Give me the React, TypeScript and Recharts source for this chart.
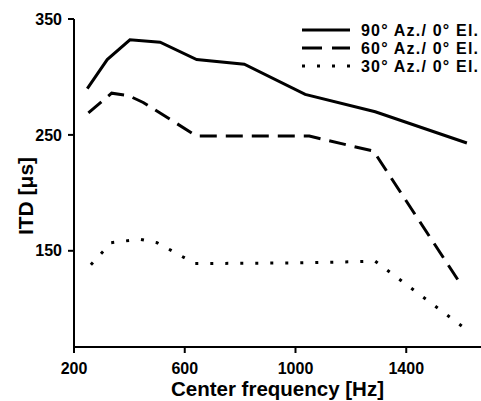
import { LineChart, Line, XAxis, YAxis, Legend, Label } from 'recharts'

const font = 'Liberation Sans, Arial, Helvetica, sans-serif'

const xTicks = [200, 600, 1000, 1400]
const yTicks = [150, 250, 350]

// 90° azimuth
const az90Freq = [248, 320, 402, 511, 643, 815, 1035, 1288, 1619]
const az90Itd = [290, 315, 332, 330, 315, 311, 285, 270, 243]

// 60° azimuth
const az60Freq = [252, 336, 396, 450, 643, 1050, 1282, 1603]
const az60Itd = [269, 286, 284, 278, 249, 249, 236, 119]

// 30° azimuth
const az30Freq = [261, 334, 438, 500, 637, 1000, 1288, 1629]
const az30Itd = [138, 157, 160, 157, 139, 139.5, 141, 80]

const zip = (f: number[], v: number[]) => f.map((freq, i) => ({ freq, itd: v[i] }))

const series = [
  { name: '90° Az./ 0° El.', data: zip(az90Freq, az90Itd), dash: undefined, legendDash: undefined },
  { name: '60° Az./ 0° El.', data: zip(az60Freq, az60Itd), dash: '17 9', legendDash: '20 10' },
  { name: '30° Az./ 0° El.', data: zip(az30Freq, az30Itd), dash: '3 12', legendDash: '3 12' },
]

function renderLegend() {
  return (
    <svg width={181} height={62}>
      {series.map((s, i) => {
        const y = 12 + i * 18
        return (
          <g key={s.name}>
            <line x1={2} x2={50} y1={y} y2={y} stroke="#000" strokeWidth={3} strokeDasharray={s.legendDash} />
            <text
              x={61}
              y={y + 5.7}
              fontFamily={font}
              fontWeight="bold"
              fontSize={16}
              letterSpacing={1.2}
              fill="#000"
            >
              {s.name}
            </text>
          </g>
        )
      })}
    </svg>
  )
}

function renderYLabel(props: any) {
  const vb = props.viewBox || { x: 0, y: 19, width: 74, height: 328 }
  const x = vb.x + 33
  const y = vb.y + vb.height / 2 + 13
  return (
    <text
      x={x}
      y={y}
      transform={`rotate(-90, ${x}, ${y})`}
      textAnchor="middle"
      fontFamily={font}
      fontWeight="bold"
      fontSize={21}
      fill="#000"
    >
      ITD [μs]
    </text>
  )
}

export default function App() {
  const tickStyle = { fill: '#000', fontSize: 16, fontWeight: 'bold', fontFamily: font }
  return (
    <div style={{ position: 'absolute', left: 0, top: 0, background: '#fff' }}>
      <LineChart width={481} height={401} margin={{ top: 19, right: 0, bottom: 0, left: 0 }}>
        <XAxis
          type="number"
          dataKey="freq"
          domain={[200, 1670]}
          ticks={xTicks}
          allowDataOverflow
          height={54}
          tick={tickStyle}
          tickSize={6}
          tickMargin={10}
          axisLine={{ stroke: '#000', strokeWidth: 2 }}
          tickLine={{ stroke: '#000', strokeWidth: 2 }}
        >
          <Label
            value="Center frequency [Hz]"
            position="insideBottom"
            offset={5}
            style={{ fill: '#000', fontSize: 20.5, fontWeight: 'bold', fontFamily: font }}
          />
        </XAxis>
        <YAxis
          type="number"
          domain={[67, 350]}
          ticks={yTicks}
          allowDataOverflow
          width={74}
          tick={tickStyle}
          tickSize={6}
          tickMargin={6}
          axisLine={{ stroke: '#000', strokeWidth: 2 }}
          tickLine={{ stroke: '#000', strokeWidth: 2 }}
          label={{ content: renderYLabel }}
        />
        <Legend
          layout="vertical"
          align="center"
          verticalAlign="middle"
          content={renderLegend}
          wrapperStyle={{ left: 300, top: 18, width: 181, height: 62 }}
        />
        {series.map((s) => (
          <Line
            key={s.name}
            data={s.data}
            dataKey="itd"
            name={s.name}
            type="linear"
            stroke="#000"
            strokeWidth={3}
            strokeDasharray={s.dash}
            dot={false}
            activeDot={false}
            isAnimationActive={false}
          />
        ))}
      </LineChart>
    </div>
  )
}
